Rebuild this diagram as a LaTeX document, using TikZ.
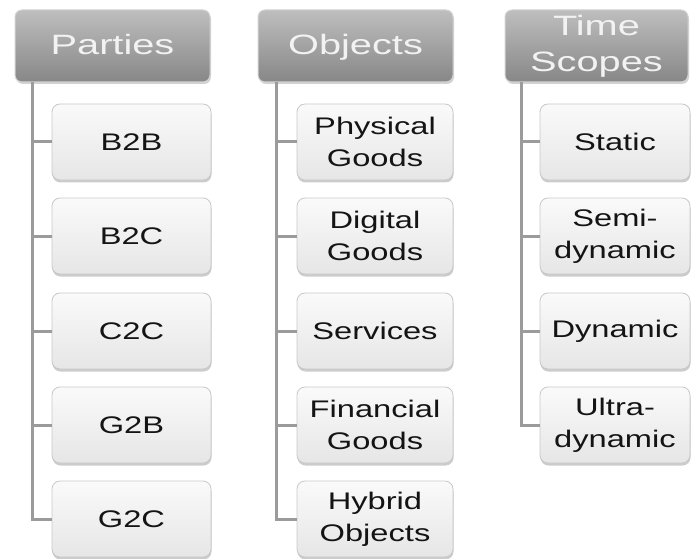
\documentclass[tikz,border=0pt]{standalone}
\usepackage{fontspec}
\setmainfont{Liberation Sans}[FakeStretch=1.36]
\newfontfamily\hdfont{Liberation Sans}[FakeStretch=1.42]
\usetikzlibrary{shadows}
\definecolor{hdtop}{RGB}{190,190,190}
\definecolor{hdbot}{RGB}{135,135,135}
\definecolor{hdline}{RGB}{210,210,210}
\definecolor{chtop}{RGB}{250,250,250}
\definecolor{chbot}{RGB}{230,230,230}
\definecolor{chline}{RGB}{200,200,200}
\definecolor{conncol}{RGB}{155,155,155}
\definecolor{txtcol}{RGB}{20,20,20}
\tikzset{
  header/.style={draw=hdline, line width=1pt, rounded corners=7pt,
    top color=hdtop, bottom color=hdbot, text=white!95!black,
    inner sep=0pt, align=center, font=\hdfont\fontsize{28}{36}\selectfont,
    drop shadow={shadow xshift=1pt, shadow yshift=-2pt, fill=black!35}},
  oneline/.style={text height=20pt, text depth=2pt},
  child/.style={draw=chline, line width=0.8pt, rounded corners=8pt,
    top color=chtop, bottom color=chbot, text=txtcol,
    inner sep=0pt, align=center, minimum height=76pt,
    font=\fontsize{24}{32}\selectfont,
    drop shadow={shadow xshift=0.5pt, shadow yshift=-2.5pt, fill=black!40}},
  conn/.style={draw=conncol, line width=3pt}
}
\begin{document}
\begin{tikzpicture}[x=1pt,y=-1pt]
\useasboundingbox (0,0) rectangle (691,559);
% Headers
\node[header, oneline, minimum width=195pt, minimum height=72pt] (p0) at (112.5,46) {Parties};
\node[header, oneline, minimum width=195pt, minimum height=72pt] (o0) at (355.5,46) {Objects};
\node[header, minimum width=183pt, minimum height=72pt] (t0) at (596.5,46) {Time\\Scopes};
% Parties children
\node[child, minimum width=159pt] (p1) at (131.5,142) {B2B};
\node[child, minimum width=159pt] (p2) at (131.5,236) {B2C};
\node[child, minimum width=159pt] (p3) at (131.5,331) {C2C};
\node[child, minimum width=159pt] (p4) at (131.5,425) {G2B};
\node[child, minimum width=159pt] (p5) at (131.5,519) {G2C};
% Objects children
\node[child, minimum width=156pt] (o1) at (375,142) {Physical\\Goods};
\node[child, minimum width=156pt] (o2) at (375,236) {Digital\\Goods};
\node[child, minimum width=156pt] (o3) at (375,331) {Services};
\node[child, minimum width=156pt] (o4) at (375,425) {Financial\\Goods};
\node[child, minimum width=156pt] (o5) at (375,519) {Hybrid\\Objects};
% Time children
\node[child, minimum width=150pt] (t1) at (615,142) {Static};
\node[child, minimum width=150pt] (t2) at (615,236) {Semi-\\dynamic};
\node[child, minimum width=150pt] (t3) at (615,331) {Dynamic};
\node[child, minimum width=150pt] (t4) at (615,425) {Ultra-\\dynamic};
% trunks
\coordinate (pt) at ([xshift=18pt]p0.south west);
\coordinate (ot) at ([xshift=19pt]o0.south west);
\coordinate (tt) at ([xshift=17pt]t0.south west);
\draw[conn] (pt) |- (p5.west);
\foreach \i in {1,...,4} \draw[conn] (pt |- p\i.west) -- (p\i.west);
\draw[conn] (ot) |- (o5.west);
\foreach \i in {1,...,4} \draw[conn] (ot |- o\i.west) -- (o\i.west);
\draw[conn] (tt) |- (t4.west);
\foreach \i in {1,...,3} \draw[conn] (tt |- t\i.west) -- (t\i.west);
\end{tikzpicture}
\end{document}
